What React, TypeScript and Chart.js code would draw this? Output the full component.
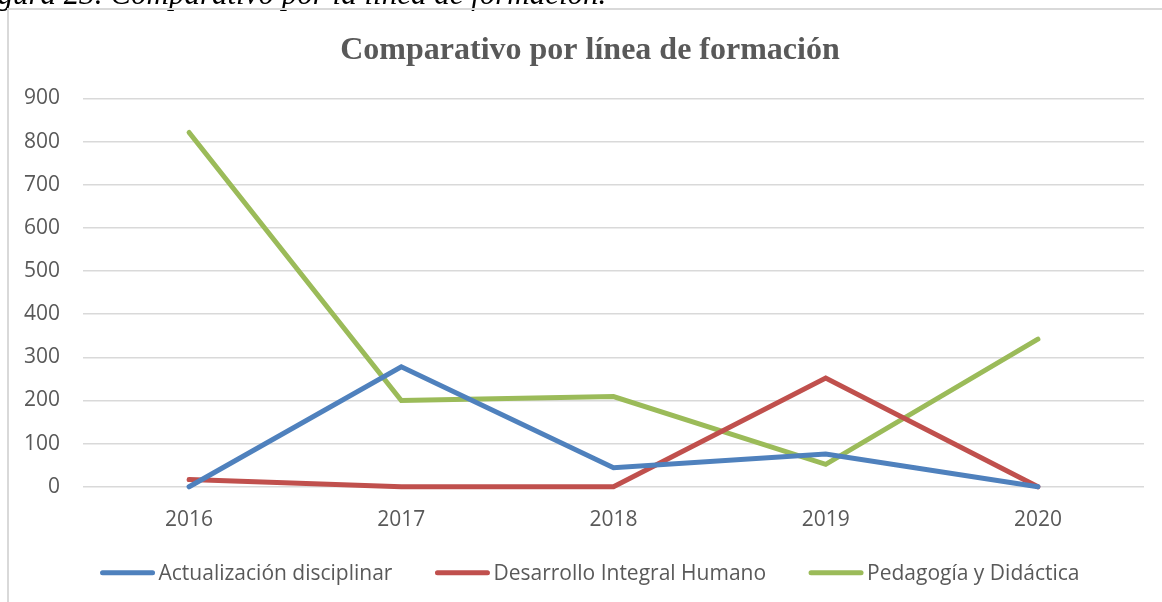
import React, { useEffect, useRef } from "react";
import { Chart, registerables } from "chart.js";

Chart.register(...registerables);

const years = ["2016", "2017", "2018", "2019", "2020"];
const actualizacion = [0, 278, 44, 76, 0];
const desarrollo = [17, 0, 0, 252, 0];
const pedagogia = [821, 200, 209, 52, 342];
const seriesNames = ["Actualización disciplinar", "Desarrollo Integral Humano", "Pedagogía y Didáctica"];
const seriesColors = ["#4F81BD", "#C0504D", "#9BBB59"];
const chartTitle = "Comparativo por línea de formación";
const caption = "Figura 23. Comparativo por la línea de formación.";

const SANS = "'Open Sans', sans-serif";

const bottomLegend = {
  id: "bottomLegend",
  afterDraw(chart: any) {
    const ctx = chart.ctx as CanvasRenderingContext2D;
    const lineW = 54;
    const gap = 4;
    const spacing = 43;
    ctx.save();
    ctx.font = `21px ${SANS}`;
    const items = chart.data.datasets.map((ds: any) => ({
      text: ds.label as string,
      color: ds.borderColor as string,
      w: ctx.measureText(ds.label).width,
    }));
    const total =
      items.reduce((s: number, it: any) => s + lineW + gap + it.w, 0) + spacing * (items.length - 1);
    const pad = chart.options.layout.padding;
    const center = (pad.left + chart.width - pad.right) / 2;
    const y = chart.chartArea.bottom + 86;
    let x = center - total / 2;
    ctx.textBaseline = "middle";
    ctx.textAlign = "left";
    ctx.lineCap = "round";
    ctx.lineWidth = 5;
    for (const it of items) {
      ctx.strokeStyle = it.color;
      ctx.beginPath();
      ctx.moveTo(x + 2, y);
      ctx.lineTo(x + lineW - 2, y);
      ctx.stroke();
      ctx.fillStyle = "#595959";
      ctx.fillText(it.text, x + lineW + gap, y + 1);
      x += lineW + gap + it.w + spacing;
    }
    ctx.restore();
  },
};

export default function App() {
  const ref = useRef<HTMLCanvasElement | null>(null);

  useEffect(() => {
    if (!ref.current) return;
    const mk = (label: string, data: number[], color: string) => ({
      label,
      data,
      borderColor: color,
      backgroundColor: color,
      borderWidth: 5,
      borderCapStyle: "round" as const,
      borderJoinStyle: "miter" as const,
      pointRadius: 0,
      pointHoverRadius: 0,
      tension: 0,
      clip: false as const,
      yAxisID: "y",
    });
    const chart = new Chart(ref.current, {
      type: "line",
      data: {
        labels: years,
        datasets: [
          mk(seriesNames[0], actualizacion, seriesColors[0]),
          mk(seriesNames[1], desarrollo, seriesColors[1]),
          mk(seriesNames[2], pedagogia, seriesColors[2]),
        ],
      },
      plugins: [bottomLegend],
      options: {
        animation: false,
        responsive: false,
        devicePixelRatio: 1,
        layout: { padding: { top: 32, left: 24, right: 6, bottom: 48 } },
        plugins: {
          title: {
            display: true,
            text: chartTitle,
            color: "#595959",
            font: { family: "'Liberation Serif', serif", size: 32, weight: "bold" },
            padding: { top: 0, bottom: 28 },
          },
          legend: { display: false },
          tooltip: { enabled: false },
        },
        scales: {
          x: {
            offset: true,
            grid: { display: false, drawTicks: false },
            border: { display: false },
            ticks: { color: "#595959", font: { family: SANS, size: 21 }, padding: 21, maxRotation: 0 },
          },
          y: {
            min: 0,
            max: 900,
            border: { display: false },
            grid: { color: "#D9D9D9", lineWidth: 1.5, drawTicks: false },
            ticks: { stepSize: 100, color: "#595959", font: { family: SANS, size: 21 }, padding: 23 },
            afterFit: (scale: any) => {
              scale.width = 59;
            },
          },
          y2: {
            position: "right",
            grid: { display: false, drawTicks: false },
            border: { display: false },
            ticks: { display: false },
            afterFit: (scale: any) => {
              scale.width = 12;
            },
          },
        },
      },
    });
    return () => chart.destroy();
  }, []);

  return (
    <div>
      <div
        style={{
          position: "fixed",
          left: -30,
          top: -22,
          fontFamily: "'Liberation Serif', serif",
          fontStyle: "italic",
          fontSize: 31,
          lineHeight: "31px",
          whiteSpace: "nowrap",
          color: "#000",
        }}
      >
        {caption}
      </div>
      <div
        style={{
          position: "fixed",
          left: 7,
          top: 8,
          width: 1170,
          height: 610,
          border: "2px solid #D9D9D9",
          boxSizing: "border-box",
        }}
      />
      <canvas
        ref={ref}
        width={1162}
        height={602}
        style={{ position: "fixed", left: 0, top: 0, width: 1162, height: 602 }}
      />
    </div>
  );
}
